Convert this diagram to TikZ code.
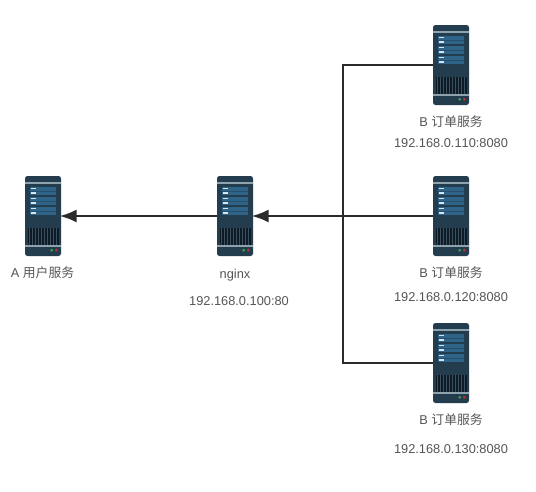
\documentclass[tikz,border=0pt]{standalone}
\usepackage{fontspec}
\setmainfont[Kerning=Off]{Liberation Sans}
\newfontfamily\cjk{Noto Sans CJK SC}
\usetikzlibrary{arrows.meta}
\definecolor{body}{HTML}{233C4E}
\definecolor{band}{HTML}{8FA3AE}
\definecolor{slot}{HTML}{2F6388}
\definecolor{slotline}{HTML}{264F6E}
\definecolor{ledw}{HTML}{D5E4EE}
\definecolor{wire}{HTML}{2B2B2B}
\definecolor{txt}{HTML}{555555}
\definecolor{grille}{HTML}{0E1A24}
\tikzset{
  x=1pt,y=-1pt,
  lab/.style={font=\fontsize{12.8}{13}\selectfont,text=txt,inner sep=0pt,anchor=center},
  conn/.style={draw=wire,line width=2pt},
  arr/.style={conn,shorten >=-1.5pt,-{Latex[length=17pt,width=13pt,inset=0pt]}},
  srv/.style={minimum width=36pt,minimum height=80pt,inner sep=0pt,draw=none},
  pics/server/.style={code={
    \fill[body,rounded corners=2.5pt] (0,0) rectangle (36,80);
    \fill[band] (0,6) rectangle (36,7.5);
    \fill[band] (0,69) rectangle (36,71);
    \foreach \yy in {11,21,31}{
      \fill[slot] (5,\yy) rectangle (31,\yy+8);
      \fill[slotline] (5,\yy+3.7) rectangle (31,\yy+4.3);
      \fill[ledw] (6,\yy+1) rectangle (11,\yy+2.2);
      \fill[ledw] (6,\yy+5.4) rectangle (11,\yy+6.6);
    }
    \fill[grille] (2.5,51.5) rectangle (33.5,68.5);
    \foreach \i in {0,...,9}{\fill[body!80!band] (3.6+\i*3,51.5) rectangle (4.5+\i*3,68.5);}
    \fill[green!55!black!75!white] (26.7,74.3) circle (1.4);
    \fill[red!70!black!80!white] (31.3,74.3) circle (1.4);
  }}
}
\begin{document}
\begin{tikzpicture}
\useasboundingbox (0,0) rectangle (536,491);
\fill[white] (0,0) rectangle (536,491);
\pic at (25,176) {server};
\pic at (217,176) {server};
\pic at (433,25) {server};
\pic at (433,176) {server};
\pic at (433,323) {server};
\node[srv] (a) at (43,216) {};
\node[srv] (n) at (235,216) {};
\node[srv] (b1) at (451,65) {};
\node[srv] (b2) at (451,216) {};
\node[srv] (b3) at (451,363) {};
\coordinate (j) at (343,216);
\draw[conn] (b1.west) -| (j);
\draw[conn] (b3.west) -| (j);
\draw[arr] (b2.west) -- (n.east);
\draw[arr] (n.west) -- (a.east);
\node[lab] (la) at (42.5,272.5) {A {\cjk 用户服务}};
\node[lab] (ln) at (235,275) {nginx};
\node[lab] (ln2) at (239,300.7) {192.168.0.100:80};
\node[lab] (l1) at (451,121.5) {B {\cjk 订单服务}};
\node[lab] (l1b) at (451,142.7) {192.168.0.110:8080};
\node[lab] (l2) at (451,273) {B {\cjk 订单服务}};
\node[lab] (l2b) at (451,296.7) {192.168.0.120:8080};
\node[lab] (l3) at (451,420) {B {\cjk 订单服务}};
\node[lab] (l3b) at (451,448.7) {192.168.0.130:8080};
\end{tikzpicture}
\end{document}
